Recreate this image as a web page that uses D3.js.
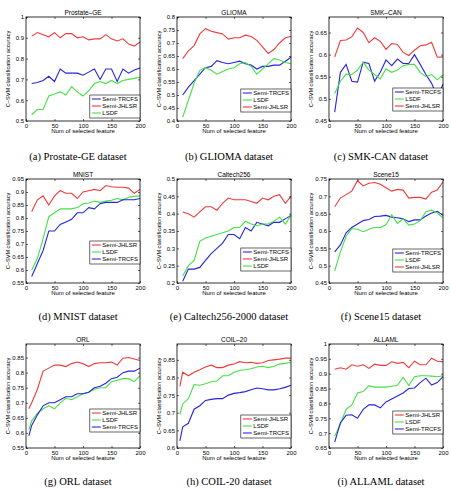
<!DOCTYPE html>
<html>
<head>
<meta charset="utf-8">
<script src="https://cdn.jsdelivr.net/npm/d3@7"></script>
<style>
body { margin: 0; background: #fff; }
svg { display: block; }
text { font-family: "Liberation Sans", Arial, sans-serif; fill: #000; }
.caption { font-family: "Liberation Serif", "Times New Roman", serif; font-size: 10.5px; }
</style>
</head>
<body>
<svg id="fig" width="451" height="492"></svg>
<script>
// number of selected features
var xs = [10, 20, 30, 40, 50, 60, 70, 80, 90, 100, 110, 120, 130, 140, 150, 160, 170, 180, 190, 200];
var xs5 = [5, 10, 20, 30, 40, 50, 60, 70, 80, 90, 100, 110, 120, 130, 140, 150, 160, 170, 180, 190, 200];
var xTicks = [0, 50, 100, 150, 200];

// (a) Prostate-GE
var prostateTRCFS = [0.68, 0.685, 0.695, 0.715, 0.69, 0.75, 0.73, 0.73, 0.73, 0.72, 0.735, 0.75, 0.70, 0.75, 0.75, 0.69, 0.75, 0.73, 0.745, 0.755];
var prostateJHLSR = [0.908, 0.925, 0.915, 0.905, 0.925, 0.90, 0.92, 0.92, 0.90, 0.905, 0.89, 0.895, 0.895, 0.915, 0.895, 0.885, 0.895, 0.87, 0.86, 0.88];
var prostateLSDF = [0.53, 0.555, 0.555, 0.62, 0.63, 0.64, 0.625, 0.665, 0.64, 0.62, 0.645, 0.68, 0.69, 0.68, 0.695, 0.68, 0.695, 0.70, 0.705, 0.71];
var prostateTicks = [0.5, 0.6, 0.7, 0.8, 0.9, 1];

// (b) GLIOMA
var gliomaTRCFS = [0.50, 0.53, 0.555, 0.58, 0.605, 0.61, 0.632, 0.625, 0.62, 0.625, 0.63, 0.62, 0.615, 0.60, 0.61, 0.61, 0.615, 0.615, 0.63, 0.645];
var gliomaLSDF = [0.415, 0.48, 0.545, 0.595, 0.605, 0.595, 0.58, 0.59, 0.60, 0.605, 0.62, 0.625, 0.61, 0.58, 0.60, 0.62, 0.64, 0.635, 0.625, 0.62];
var gliomaJHLSR = [0.64, 0.67, 0.69, 0.735, 0.755, 0.745, 0.74, 0.735, 0.715, 0.72, 0.72, 0.73, 0.725, 0.71, 0.685, 0.66, 0.675, 0.70, 0.72, 0.725];
var gliomaTicks = [0.4, 0.45, 0.5, 0.55, 0.6, 0.65, 0.7, 0.75, 0.8];

// (c) SMK-CAN
var smkTRCFS = [0.47, 0.56, 0.578, 0.54, 0.538, 0.583, 0.58, 0.54, 0.56, 0.588, 0.575, 0.59, 0.58, 0.58, 0.60, 0.578, 0.555, 0.535, 0.505, 0.533];
var smkLSDF = [0.512, 0.54, 0.556, 0.555, 0.565, 0.583, 0.565, 0.555, 0.545, 0.568, 0.56, 0.565, 0.575, 0.578, 0.578, 0.56, 0.55, 0.555, 0.543, 0.555];
var smkJHLSR = [0.595, 0.632, 0.633, 0.64, 0.66, 0.65, 0.627, 0.638, 0.63, 0.612, 0.625, 0.623, 0.605, 0.598, 0.61, 0.62, 0.622, 0.628, 0.594, 0.595];
var smkTicks = [0.45, 0.5, 0.55, 0.6, 0.65];

// (d) MNIST
var mnistJHLSR = [0.825, 0.87, 0.885, 0.85, 0.885, 0.905, 0.895, 0.895, 0.875, 0.90, 0.905, 0.91, 0.905, 0.925, 0.92, 0.918, 0.918, 0.915, 0.895, 0.91];
var mnistLSDF = [0.60, 0.645, 0.72, 0.805, 0.82, 0.835, 0.835, 0.835, 0.84, 0.855, 0.858, 0.865, 0.86, 0.865, 0.868, 0.875, 0.87, 0.88, 0.883, 0.885];
var mnistTRCFS = [0.575, 0.625, 0.675, 0.75, 0.75, 0.775, 0.785, 0.795, 0.82, 0.82, 0.84, 0.835, 0.855, 0.86, 0.86, 0.86, 0.87, 0.87, 0.87, 0.875];
var mnistTicks = [0.55, 0.6, 0.65, 0.7, 0.75, 0.8, 0.85, 0.9, 0.95];

// (e) Caltech256-2000
var caltechTRCFS = [0.205, 0.24, 0.24, 0.245, 0.265, 0.285, 0.30, 0.315, 0.34, 0.34, 0.328, 0.36, 0.35, 0.375, 0.37, 0.365, 0.375, 0.375, 0.385, 0.395];
var caltechJHLSR = [0.405, 0.40, 0.39, 0.405, 0.42, 0.42, 0.41, 0.43, 0.445, 0.44, 0.44, 0.44, 0.435, 0.43, 0.445, 0.44, 0.45, 0.455, 0.43, 0.45];
var caltechLSDF = [0.22, 0.25, 0.265, 0.32, 0.33, 0.335, 0.34, 0.345, 0.35, 0.36, 0.36, 0.378, 0.37, 0.365, 0.37, 0.37, 0.378, 0.39, 0.37, 0.395];
var caltechTicks = [0.2, 0.25, 0.3, 0.35, 0.4, 0.45, 0.5];

// (f) Scene15
var sceneTRCFS = [0.54, 0.56, 0.595, 0.61, 0.62, 0.63, 0.633, 0.642, 0.643, 0.645, 0.64, 0.638, 0.635, 0.627, 0.632, 0.632, 0.643, 0.652, 0.657, 0.645];
var sceneLSDF = [0.485, 0.54, 0.585, 0.607, 0.605, 0.598, 0.605, 0.61, 0.61, 0.618, 0.647, 0.622, 0.635, 0.617, 0.62, 0.63, 0.655, 0.66, 0.652, 0.638];
var sceneJHLSR = [0.67, 0.695, 0.705, 0.715, 0.745, 0.73, 0.738, 0.74, 0.735, 0.725, 0.715, 0.72, 0.718, 0.695, 0.697, 0.697, 0.692, 0.712, 0.718, 0.742];
var sceneTicks = [0.45, 0.5, 0.55, 0.6, 0.65, 0.7, 0.75];

// (g) ORL
var orlJHLSR = [0.68, 0.70, 0.745, 0.805, 0.815, 0.825, 0.825, 0.82, 0.83, 0.835, 0.83, 0.82, 0.83, 0.833, 0.833, 0.835, 0.825, 0.848, 0.85, 0.845, 0.84];
var orlLSDF = [0.61, 0.64, 0.665, 0.68, 0.69, 0.68, 0.70, 0.715, 0.71, 0.72, 0.73, 0.735, 0.745, 0.75, 0.75, 0.77, 0.775, 0.78, 0.78, 0.77, 0.79];
var orlTRCFS = [0.59, 0.625, 0.66, 0.69, 0.70, 0.70, 0.71, 0.72, 0.72, 0.73, 0.73, 0.735, 0.75, 0.755, 0.765, 0.78, 0.785, 0.80, 0.805, 0.805, 0.815];
var orlTicks = [0.55, 0.6, 0.65, 0.7, 0.75, 0.8, 0.85];

// (h) COIL-20
var coilJHLSR = [0.775, 0.815, 0.805, 0.815, 0.822, 0.83, 0.835, 0.828, 0.828, 0.835, 0.838, 0.845, 0.842, 0.843, 0.84, 0.842, 0.848, 0.85, 0.852, 0.855, 0.855];
var coilLSDF = [0.695, 0.725, 0.74, 0.78, 0.778, 0.782, 0.788, 0.79, 0.805, 0.805, 0.815, 0.82, 0.822, 0.825, 0.83, 0.832, 0.828, 0.832, 0.838, 0.84, 0.843];
var coilTRCFS = [0.62, 0.66, 0.67, 0.71, 0.72, 0.735, 0.738, 0.74, 0.74, 0.75, 0.755, 0.757, 0.76, 0.765, 0.77, 0.768, 0.765, 0.765, 0.768, 0.772, 0.778];
var coilTicks = [0.6, 0.65, 0.7, 0.75, 0.8, 0.85];

// (i) ALLAML
var allamlJHLSR = [0.915, 0.92, 0.915, 0.93, 0.925, 0.93, 0.918, 0.932, 0.928, 0.928, 0.94, 0.935, 0.938, 0.92, 0.942, 0.93, 0.93, 0.952, 0.942, 0.94];
var allamlLSDF = [0.69, 0.73, 0.78, 0.795, 0.835, 0.84, 0.86, 0.855, 0.855, 0.855, 0.858, 0.86, 0.888, 0.86, 0.89, 0.893, 0.893, 0.892, 0.89, 0.893];
var allamlTRCFS = [0.67, 0.735, 0.76, 0.762, 0.75, 0.78, 0.795, 0.795, 0.785, 0.805, 0.815, 0.825, 0.835, 0.85, 0.852, 0.87, 0.885, 0.862, 0.87, 0.89];
var allamlTicks = [0.65, 0.7, 0.75, 0.8, 0.85, 0.9, 0.95, 1];

var colors = { "Semi-TRCFS": "#2525dd", "Semi-JHLSR": "#f03a3a", "LSDF": "#45e045" };

// one entry per sub-figure, series listed in legend order
var panels = [
    { title: "Prostate\u2013GE", caption: "(a)  Prostate-GE dataset", x: xs, yDomain: [0.5, 1], yTicks: prostateTicks, legendGap: 3,
      series: [["Semi-TRCFS", prostateTRCFS], ["Semi-JHLSR", prostateJHLSR], ["LSDF", prostateLSDF]] },
    { title: "GLIOMA", caption: "(b)  GLIOMA dataset", x: xs, yDomain: [0.4, 0.8], yTicks: gliomaTicks, legendGap: 9,
      series: [["Semi-TRCFS", gliomaTRCFS], ["LSDF", gliomaLSDF], ["Semi-JHLSR", gliomaJHLSR]] },
    { title: "SMK\u2013CAN", caption: "(c)  SMK-CAN dataset", x: xs, yDomain: [0.45, 0.685], yTicks: smkTicks, legendGap: 10,
      series: [["Semi-TRCFS", smkTRCFS], ["LSDF", smkLSDF], ["Semi-JHLSR", smkJHLSR]] },
    { title: "MNIST", caption: "(d)  MNIST dataset", x: xs, yDomain: [0.55, 0.95], yTicks: mnistTicks, legendGap: 19,
      series: [["Semi-JHLSR", mnistJHLSR], ["LSDF", mnistLSDF], ["Semi-TRCFS", mnistTRCFS]] },
    { title: "Caltech256", caption: "(e)  Caltech256-2000 dataset", x: xs, yDomain: [0.2, 0.5], yTicks: caltechTicks, legendGap: 12,
      series: [["Semi-TRCFS", caltechTRCFS], ["Semi-JHLSR", caltechJHLSR], ["LSDF", caltechLSDF]] },
    { title: "Scene15", caption: "(f)  Scene15 dataset", x: xs, yDomain: [0.45, 0.75], yTicks: sceneTicks, legendGap: 11,
      series: [["Semi-TRCFS", sceneTRCFS], ["LSDF", sceneLSDF], ["Semi-JHLSR", sceneJHLSR]] },
    { title: "ORL", caption: "(g)  ORL dataset", x: xs5, yDomain: [0.55, 0.895], yTicks: orlTicks, legendGap: 16,
      series: [["Semi-JHLSR", orlJHLSR], ["LSDF", orlLSDF], ["Semi-TRCFS", orlTRCFS]] },
    { title: "COIL\u201320", caption: "(h)  COIL-20 dataset", x: xs5, yDomain: [0.6, 0.895], yTicks: coilTicks, legendGap: 10,
      series: [["Semi-JHLSR", coilJHLSR], ["LSDF", coilLSDF], ["Semi-TRCFS", coilTRCFS]] },
    { title: "ALLAML", caption: "(i)  ALLAML dataset", x: xs, yDomain: [0.65, 1], yTicks: allamlTicks, legendGap: 14,
      series: [["Semi-JHLSR", allamlJHLSR], ["LSDF", allamlLSDF], ["Semi-TRCFS", allamlTRCFS]] }
];

var colX = [26, 177, 329];
var rowY = [17, 179, 344];
var captionY = [159.5, 320, 485];
var w = 114, h = 104;

var svg = d3.select("#fig");
var fmt = function (d) { return String(+d.toFixed(2)); };

panels.forEach(function (p, i) {
    var col = i % 3, row = Math.floor(i / 3);
    var left = colX[col], top = rowY[row];

    var x = d3.scaleLinear().domain([0, 200]).range([0, w]);
    var y = d3.scaleLinear().domain(p.yDomain).range([h, 0]);

    var g = svg.append("g").attr("transform", "translate(" + left + "," + top + ")");

    // lines
    var line = d3.line()
        .x(function (d) { return x(d[0]); })
        .y(function (d) { return y(d[1]); });

    p.series.forEach(function (s) {
        g.append("path")
            .datum(p.x.map(function (v, k) { return [v, s[1][k]]; }))
            .attr("fill", "none")
            .attr("stroke", colors[s[0]])
            .attr("stroke-width", 1.1)
            .attr("d", line);
    });

    // axes, ticks pointing inward like matlab
    var ax = g.append("g").attr("transform", "translate(0," + h + ")")
        .call(d3.axisBottom(x).tickValues(xTicks).tickSizeInner(-2).tickSizeOuter(0).tickPadding(2.5));
    var ay = g.append("g")
        .call(d3.axisLeft(y).tickValues(p.yTicks).tickFormat(fmt).tickSizeInner(-2).tickSizeOuter(0).tickPadding(2));
    var at = g.append("g")
        .call(d3.axisTop(x).tickValues(xTicks).tickSizeInner(-2).tickSizeOuter(0).tickFormat(""));
    var ar = g.append("g").attr("transform", "translate(" + w + ",0)")
        .call(d3.axisRight(y).tickValues(p.yTicks).tickSizeInner(-2).tickSizeOuter(0).tickFormat(""));

    [ax, ay, at, ar].forEach(function (a) {
        a.select(".domain").remove();
        a.selectAll("line").attr("stroke", "#000").attr("stroke-width", 0.6);
        a.selectAll("text").attr("font-size", 6).attr("font-family", "Liberation Sans, Arial, sans-serif");
    });

    g.append("rect")
        .attr("width", w)
        .attr("height", h)
        .attr("fill", "none")
        .attr("stroke", "#000")
        .attr("stroke-width", 0.8);

    // title and labels
    g.append("text")
        .attr("x", w / 2)
        .attr("y", -2.5)
        .attr("text-anchor", "middle")
        .attr("font-size", 6.5)
        .text(p.title);

    g.append("text")
        .attr("x", w / 2)
        .attr("y", h + 12)
        .attr("text-anchor", "middle")
        .attr("font-size", 6)
        .text("Num of selected feature");

    g.append("text")
        .attr("transform", "translate(-16," + (h / 2) + ") rotate(-90)")
        .attr("text-anchor", "middle")
        .attr("font-size", 5.6)
        .text("C\u2013SVM classification accuracy");

    // legend
    var legend = g.append("g");
    var box = legend.append("rect")
        .attr("fill", "#fff")
        .attr("stroke", "#000")
        .attr("stroke-width", 0.6);
    var maxLen = 0;
    p.series.forEach(function (s, k) {
        legend.append("line")
            .attr("x1", 2).attr("x2", 11)
            .attr("y1", 4 + k * 7).attr("y2", 4 + k * 7)
            .attr("stroke", colors[s[0]])
            .attr("stroke-width", 1.1);
        var t = legend.append("text")
            .attr("x", 12.5)
            .attr("y", 6 + k * 7)
            .attr("font-size", 6)
            .text(s[0]);
        maxLen = Math.max(maxLen, t.node().getComputedTextLength());
    });
    var lw = maxLen + 14.5, lh = 23;
    box.attr("width", lw).attr("height", lh);
    legend.attr("transform", "translate(" + (w - lw) + "," + (h - p.legendGap - lh) + ")");

    // caption
    svg.append("text")
        .attr("class", "caption")
        .attr("x", left + w / 2 - 5)
        .attr("y", captionY[row])
        .attr("text-anchor", "middle")
        .text(p.caption);
});
</script>
</body>
</html>
